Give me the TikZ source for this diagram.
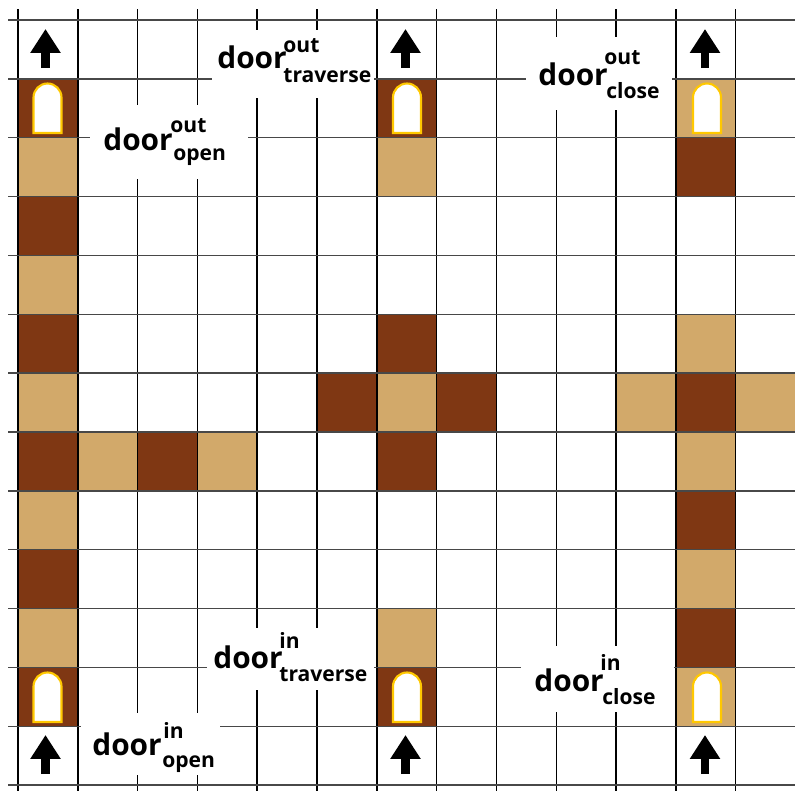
\documentclass[tikz,border=0pt]{standalone}
\usepackage{fontspec}
\setmainfont{Open Sans}
\usetikzlibrary{arrows.meta}
\definecolor{wooddark}{HTML}{7F3713}
\definecolor{woodlight}{HTML}{D2A96A}
\definecolor{doorgold}{HTML}{FFC800}
\definecolor{gridgray}{HTML}{484848}
\tikzset{
  doorword/.style={anchor=base west,inner sep=0pt,font=\bfseries\fontsize{17}{20}\selectfont},
  doorstate/.style={anchor=base west,inner sep=0pt,font=\bfseries\fontsize{12}{14}\selectfont},
  doorarch/.pic={
    \draw[doorgold,fill=white,line width=1.2pt] (-14,50) -- (-14,14.5)
      arc[start angle=180,end angle=360,radius=14] -- (14,50) -- cycle;
  },
  uparrow/.pic={
    \draw[line width=5.1pt,-{Triangle[width=16.4pt,length=13.6pt]}] (0,48) -- (0,9);
  }
}
\newcommand{\cellpos}[2]{({18+59.8*#1},{20+58.85*#2})}
\begin{document}
\begin{tikzpicture}[x=0.02cm,y=-0.02cm]
  \useasboundingbox (0,0) rectangle (795,791);
  % wall tiles
  \foreach \col/\row in {0/1,0/3,0/5,0/7,0/9,0/11,2/7,6/1,6/5,5/6,7/6,6/7,6/11,11/2,11/6,11/8,11/10}
    \fill[wooddark] \cellpos{\col}{\row} rectangle ++(59.8,58.85);
  \foreach \col/\row in {0/2,0/4,0/6,0/8,0/10,1/7,3/7,6/2,6/6,6/10,11/1,11/5,10/6,12/6,11/7,11/9,11/11}
    \fill[woodlight] \cellpos{\col}{\row} rectangle ++(59.8,58.85);
  % grid
  \foreach \col in {0,...,12}
    \draw[black,line width=0.8pt] ({18+59.8*\col},9) -- ({18+59.8*\col},791);
  \foreach \row in {0,...,13}
    \draw[gridgray,line width=0.8pt] (8,{20+58.85*\row}) -- (795,{20+58.85*\row});
  % blanks behind the labels
  \foreach \xa/\ya/\xb/\yb in {90/105/248/179,212/30/374/98,526/37/672/110,81/713/220/775,207/628/374/690,521/646/674/712}
    \fill[white] (\xa,\ya) rectangle (\xb,\yb);
  % doors and arrows
  \foreach \xc/\xa in {47.5/45.5,407/405.5,707/705}{
    \pic at (\xc,83) {doorarch};
    \pic at (\xc,672) {doorarch};
    \pic at (\xa,20) {uparrow};
    \pic at (\xa,726) {uparrow};
  }
  % labels
  \node[doorword] (openoutword) at (103,150) {door};
  \node[doorstate] (openoutsup) at (170,132) {out};
  \node[doorstate] (openoutsub) at (173,160) {open};
  \node[doorword] (traverseoutword) at (217,69) {door};
  \node[doorstate] (traverseoutsup) at (283,52) {out};
  \node[doorstate] (traverseoutsub) at (283,82) {traverse};
  \node[doorword] (closeoutword) at (538,85) {door};
  \node[doorstate] (closeoutsup) at (604,64) {out};
  \node[doorstate] (closeoutsub) at (606,98) {close};
  \node[doorword] (openinword) at (92,755) {door};
  \node[doorstate] (openinsup) at (163,738) {in};
  \node[doorstate] (openinsub) at (162,767) {open};
  \node[doorword] (traverseinword) at (213,668) {door};
  \node[doorstate] (traverseinsup) at (279,648) {in};
  \node[doorstate] (traverseinsub) at (279,681) {traverse};
  \node[doorword] (closeinword) at (534,691) {door};
  \node[doorstate] (closeinsup) at (600,670) {in};
  \node[doorstate] (closeinsub) at (602,704) {close};
\end{tikzpicture}
\end{document}
